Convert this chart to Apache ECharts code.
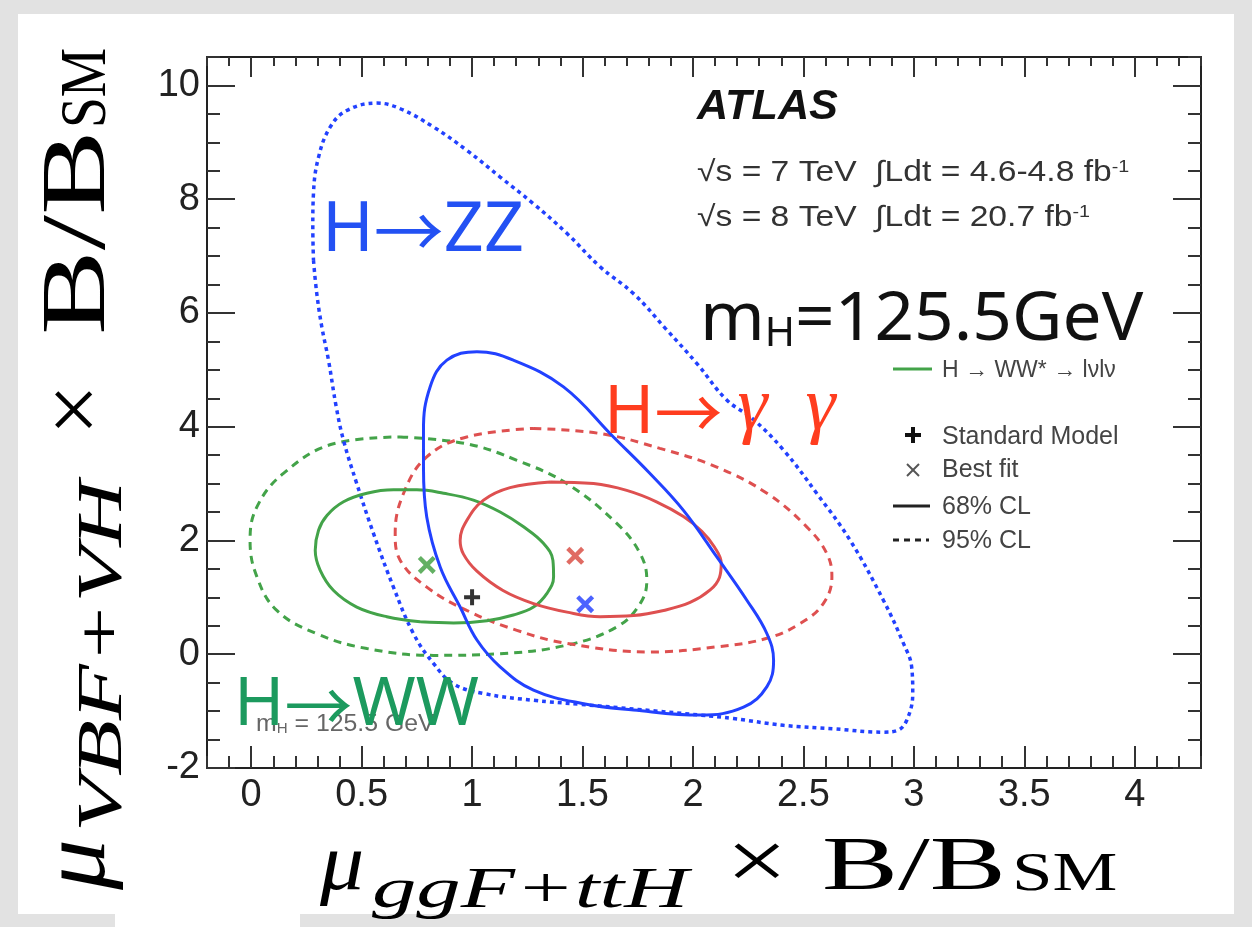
<!DOCTYPE html>
<html><head><meta charset="utf-8">
<script src="https://cdn.jsdelivr.net/npm/echarts@6/dist/echarts.min.js"></script>
<style>
html,body{margin:0;padding:0;width:1252px;height:927px;overflow:hidden;background:#e2e2e2;}
#card{position:absolute;left:18px;top:14px;width:1216px;height:900px;background:#fff;}
#card2{position:absolute;left:115px;top:900px;width:185px;height:27px;background:#fff;}
#chart{position:absolute;left:0;top:0;width:1252px;height:927px;}
</style></head><body>
<div id="card"></div><div id="card2"></div><div id="chart"></div>
<script>
// ---- tick values ----
const xMajorTicks = [0, 0.5, 1, 1.5, 2, 2.5, 3, 3.5, 4];
const yMajorTicks = [-2, 0, 2, 4, 6, 8, 10];

// ---- contours ----
const zz95 = [[0.282,6.93],[0.297,6.34],[0.320,5.75],[0.350,5.17],[0.385,4.35],[0.418,3.76],[0.478,3.00],[0.554,2.12],[0.644,1.18],[0.735,0.36],[0.825,-0.16],[0.916,-0.52],[1.052,-0.69],[1.278,-0.81],[1.489,-0.88],[1.75,-0.97],[2.033,-1.07],[2.183,-1.13],[2.41,-1.25],[2.636,-1.31],[2.862,-1.37],[2.925,-1.34],[2.968,-1.16],[2.995,-0.69],[2.99,-0.22],[2.953,0.19],[2.862,0.95],[2.712,2.0],[2.56,2.83],[2.41,3.59],[2.27,4.14],[2.153,4.47],[2.018,5.11],[1.875,5.73],[1.731,6.34],[1.58,6.81],[1.429,7.40],[1.278,7.92],[1.127,8.39],[0.976,8.86],[0.825,9.27],[0.675,9.59],[0.569,9.69],[0.433,9.56],[0.358,9.27],[0.305,8.74],[0.282,8.10],[0.279,7.51]];
const zz68 = [[0.78,3.29],[0.795,2.41],[0.856,1.53],[0.946,0.83],[1.022,0.25],[1.127,-0.22],[1.278,-0.63],[1.505,-0.87],[1.731,-0.98],[2.033,-1.07],[2.229,-0.93],[2.335,-0.57],[2.365,-0.11],[2.335,0.36],[2.244,0.95],[2.108,1.71],[1.957,2.53],[1.80,3.20],[1.64,3.82],[1.414,4.70],[1.187,5.17],[1.022,5.32],[0.886,5.17],[0.810,4.70],[0.780,3.94]];
const ww68 = [[0.765,0.57],[0.614,0.66],[0.478,0.83],[0.373,1.12],[0.312,1.48],[0.290,1.83],[0.305,2.18],[0.343,2.44],[0.418,2.68],[0.524,2.83],[0.644,2.89],[0.750,2.89],[0.871,2.83],[1.006,2.71],[1.127,2.50],[1.233,2.24],[1.323,1.95],[1.366,1.65],[1.369,1.36],[1.339,1.07],[1.278,0.83],[1.187,0.69],[1.067,0.59],[0.916,0.55]];
const ww95 = [[0.675,3.82],[0.976,3.70],[1.203,3.41],[1.429,3.0],[1.655,2.30],[1.761,1.77],[1.791,1.30],[1.761,0.89],[1.655,0.48],[1.429,0.16],[1.127,0.01],[0.825,-0.02],[0.524,0.10],[0.297,0.36],[0.116,0.77],[0.026,1.36],[-0.005,2.0],[0.026,2.59],[0.146,3.18],[0.373,3.70]];
const gg68 = [[1.354,3.03],[1.55,3.00],[1.70,2.88],[1.835,2.68],[1.957,2.42],[2.040,2.16],[2.098,1.88],[2.128,1.60],[2.120,1.35],[2.078,1.13],[1.987,0.91],[1.867,0.77],[1.731,0.68],[1.58,0.66],[1.43,0.74],[1.278,0.89],[1.140,1.12],[1.022,1.46],[0.961,1.76],[0.946,2.00],[0.976,2.35],[1.052,2.71],[1.172,2.93]];
const gg95 = [[1.278,3.97],[1.58,3.88],[1.85,3.62],[2.108,3.29],[2.335,2.83],[2.515,2.24],[2.606,1.77],[2.629,1.36],[2.59,0.89],[2.485,0.54],[2.335,0.28],[2.108,0.13],[1.806,0.04],[1.429,0.19],[1.203,0.42],[0.976,0.77],[0.795,1.18],[0.675,1.65],[0.652,2.12],[0.69,2.83],[0.795,3.47],[0.976,3.82]];

// ---- points ----
const smPoint = [[1.0, 1.0]];
const wwBest = [[0.795, 1.57]];
const ggBest = [[1.467, 1.73]];
const zzBest = [[1.512, 0.88]];

const plusPath = 'path://M6,0H10V6H16V10H10V16H6V10H0V6H6Z';
const crossPath = 'path://M0,2.8L2.8,0L8,5.2L13.2,0L16,2.8L10.8,8L16,13.2L13.2,16L8,10.8L2.8,16L0,13.2L5.2,8Z';

const BLUE = '#2241ff', GREEN = '#43a349', RED = '#de5050';

function contour(data, color, width, dash) {
  return { type: 'line', data: data.concat([data[0]]), smooth: 0.4, showSymbol: false, symbol: 'none',
    lineStyle: { color: color, width: width, type: dash || 'solid', cap: 'butt' }, z: 3, silent: true };
}
function marker(data, path, color, size) {
  return { type: 'scatter', data: data, symbol: path, symbolSize: size, itemStyle: { color: color }, z: 6, silent: true };
}

const K = 0.31;
function txt(text, x, base, fs, o) {
  o = o || {};
  const st = { text: text, fill: o.color || '#000', fontSize: fs, fontFamily: o.family || 'Liberation Sans',
    fontStyle: o.style || 'normal', fontWeight: o.weight || 'normal',
    align: 'left', textAlign: 'left', verticalAlign: 'middle', textVerticalAlign: 'middle' };
  if (o.rich) st.rich = o.rich;
  return { type: 'text', x: x, y: base - (o.k || K) * (o.fsMax || fs), z: o.z || 100, scaleX: o.sx || 1, silent: true, style: st };
}
const SANS = "'Noto Sans','DejaVu Sans',sans-serif";
const CJK = "'Noto Sans CJK JP','DejaVu Sans',sans-serif";
const SERIF = "'Liberation Serif','DejaVu Serif',serif";

function chanLabel(left, right, x, base, fs, color, rightRich) {
  return txt('{h|' + left + '}{r|→}{z|' + right + '}', x, base, fs, { fsMax: rightRich ? rightRich.fontSize : fs, rich: {
    h: { fontSize: fs, fontFamily: SANS, fill: color, verticalAlign: 'bottom' },
    r: { fontSize: fs, fontFamily: CJK, fill: color, verticalAlign: 'bottom' },
    z: rightRich ? Object.assign({ fill: color, verticalAlign: 'bottom' }, rightRich)
                 : { fontSize: fs, fontFamily: SANS, fill: color, verticalAlign: 'bottom' } } });
}

function axisBase(extra) {
  return Object.assign({ type: 'value', gridIndex: 0, splitLine: { show: false }, axisLine: { show: false, onZero: false },
    axisLabel: { show: false } }, extra);
}
const tickStyle = { color: '#333', width: 2 };
const labelStyle = { fontSize: 38, fontFamily: 'Liberation Sans', color: '#222' };

const lumiRich = {
  a: { fontSize: 29, fontFamily: 'Liberation Sans', fill: '#333', verticalAlign: 'bottom' },
  s: { fontSize: 17, fontFamily: 'Liberation Sans', fill: '#333', verticalAlign: 'top' } };

const graphics = [
  // ATLAS block
  txt('ATLAS', 697, 120, 42, { weight: 'bold', style: 'italic', color: '#111', sx: 1.03 }),
  txt('{a|√s = 7 TeV  ∫Ldt = 4.6-4.8 fb}{s|-1}', 697, 182, 29, { sx: 1.16, rich: lumiRich }),
  txt('{a|√s = 8 TeV  ∫Ldt = 20.7 fb}{s|-1}', 697, 227, 29, { sx: 1.16, rich: lumiRich }),
  // big m_H
  txt('{a|m}{b|H}{a|=125.5GeV}', 700, 342, 68, { fsMax: 68, sx: 1.02, rich: {
      a: { fontSize: 68, fontFamily: SANS, fill: '#111', verticalAlign: 'bottom' },
      b: { fontSize: 40, fontFamily: SANS, fill: '#111', verticalAlign: 'bottom' } } }),
  // legend
  { type: 'line', z: 100, silent: true, shape: { x1: 893, y1: 369, x2: 932, y2: 369 }, style: { stroke: GREEN, lineWidth: 3 } },
  txt('H → WW* → lνlν', 942, 378, 23, { color: '#444' }),
  { type: 'rect', z: 100, silent: true, shape: { x: 905, y: 433, width: 16, height: 4 }, style: { fill: '#111' } },
  { type: 'rect', z: 100, silent: true, shape: { x: 911, y: 427, width: 4, height: 16 }, style: { fill: '#111' } },
  txt('Standard Model', 942, 445, 25, { color: '#444' }),
  { type: 'line', z: 100, silent: true, shape: { x1: 907, y1: 464, x2: 919, y2: 476 }, style: { stroke: '#555', lineWidth: 2 } },
  { type: 'line', z: 100, silent: true, shape: { x1: 907, y1: 476, x2: 919, y2: 464 }, style: { stroke: '#555', lineWidth: 2 } },
  txt('Best fit', 942, 478, 25, { color: '#444' }),
  { type: 'line', z: 100, silent: true, shape: { x1: 893, y1: 506, x2: 930, y2: 506 }, style: { stroke: '#222', lineWidth: 3 } },
  txt('68% CL', 942, 515, 25, { color: '#444' }),
  { type: 'line', z: 100, silent: true, shape: { x1: 893, y1: 540, x2: 929, y2: 540 }, style: { stroke: '#222', lineWidth: 3, lineDash: [6, 5] } },
  txt('95% CL', 942, 549, 25, { color: '#444' }),
  // small mH text
  txt('{a|m}{b|H}{a| = 125.5 GeV}', 256, 732, 23, { z: 99, sx: 1.08, rich: {
      a: { fontSize: 23, fontFamily: 'Liberation Sans', fill: '#666', verticalAlign: 'bottom' },
      b: { fontSize: 14, fontFamily: 'Liberation Sans', fill: '#666', verticalAlign: 'bottom' } } }),
  // channel labels
  chanLabel('H', 'ZZ', 322, 253, 70, '#2351f3'),
  chanLabel('H', '\u2009γ\u2002γ', 604, 433, 68, '#ff3d1f', { fontSize: 76, fontFamily: SERIF, fontStyle: 'italic' }),
  chanLabel('H', 'WW', 234, 727, 68, '#1c9a5e'),
  // x axis title
  txt('μ', 320, 893, 80, { family: SERIF, style: 'italic', sx: 1.1 }),
  txt('ggF+ttH', 372, 910, 58, { family: SERIF, style: 'italic', sx: 1.53 }),
  txt('×', 726, 893, 84, { family: SERIF, sx: 1.3 }),
  txt('B/B', 822, 893, 76, { family: SERIF, sx: 1.5 }),
  txt('SM', 1012, 893, 54, { family: SERIF, sx: 1.35 }),
  // y axis title (rotated group)
  { type: 'group', x: 108, y: 890, rotation: Math.PI / 2, children: [
    txt('μ', 0, 0, 92, { family: SERIF, style: 'italic', sx: 1.1 }),
    txt('VBF+VH', 58, 16, 64, { family: SERIF, style: 'italic', sx: 1.43 }),
    txt('×', 455, 0, 90, { family: SERIF }),
    txt('B/B', 555, 0, 92, { family: SERIF, sx: 1.38 }),
    txt('SM', 762, 0, 66, { family: SERIF, sx: 0.84 })
  ] }
];

const option = {
  animation: false,
  backgroundColor: 'transparent',
  grid: { left: 207, top: 57, width: 994, height: 711, containLabel: false },
  xAxis: [
    axisBase({ position: 'bottom', min: -0.2, max: 4.3, interval: 0.1,
      axisLine: { show: true, onZero: false, lineStyle: { color: '#222', width: 2 } },
      axisTick: { show: true, inside: true, length: 12, lineStyle: tickStyle } }),
    axisBase({ position: 'bottom', min: -0.2, max: 4.3,
      axisTick: { show: true, inside: true, length: 22, lineStyle: tickStyle, customValues: xMajorTicks },
      axisLabel: Object.assign({ show: true, margin: 9, customValues: xMajorTicks, formatter: v => String(+v.toFixed(2)) }, labelStyle) }),
    axisBase({ position: 'top', min: -0.2, max: 4.3, interval: 0.1,
      axisLine: { show: true, onZero: false, lineStyle: { color: '#222', width: 2 } },
      axisTick: { show: true, inside: true, length: 9, lineStyle: tickStyle } }),
    axisBase({ position: 'top', min: -0.2, max: 4.3,
      axisTick: { show: true, inside: true, length: 20, lineStyle: tickStyle, customValues: xMajorTicks } })
  ],
  yAxis: [
    axisBase({ position: 'left', min: -2, max: 10.5, interval: 0.5,
      axisLine: { show: true, onZero: false, lineStyle: { color: '#222', width: 2 } },
      axisTick: { show: true, inside: true, length: 13, lineStyle: tickStyle } }),
    axisBase({ position: 'left', min: -2, max: 10.5,
      axisTick: { show: true, inside: true, length: 28, lineStyle: tickStyle, customValues: yMajorTicks },
      axisLabel: Object.assign({ show: true, margin: 7, customValues: yMajorTicks, formatter: v => String(Math.round(v)) }, labelStyle) }),
    axisBase({ position: 'right', min: -2, max: 10.5, interval: 0.5,
      axisLine: { show: true, onZero: false, lineStyle: { color: '#222', width: 2 } },
      axisTick: { show: true, inside: true, length: 13, lineStyle: tickStyle } }),
    axisBase({ position: 'right', min: -2, max: 10.5,
      axisTick: { show: true, inside: true, length: 28, lineStyle: tickStyle, customValues: yMajorTicks } })
  ],
  series: [
    contour(ww95, GREEN, 3, [8, 6]),
    contour(gg95, RED, 3, [8, 6]),
    contour(zz95, BLUE, 3.5, [4, 4]),
    contour(ww68, GREEN, 3),
    contour(gg68, RED, 3),
    contour(zz68, BLUE, 3),
    marker(smPoint, plusPath, '#000', 16),
    marker(wwBest, crossPath, '#3c9c3c', 18),
    marker(ggBest, crossPath, '#d8463c', 18),
    marker(zzBest, crossPath, '#1f3cff', 18)
  ],
  graphic: { elements: graphics }
};

const chart = echarts.init(document.getElementById('chart'), null, { renderer: 'canvas' });
chart.setOption(option);
</script>
</body></html>
